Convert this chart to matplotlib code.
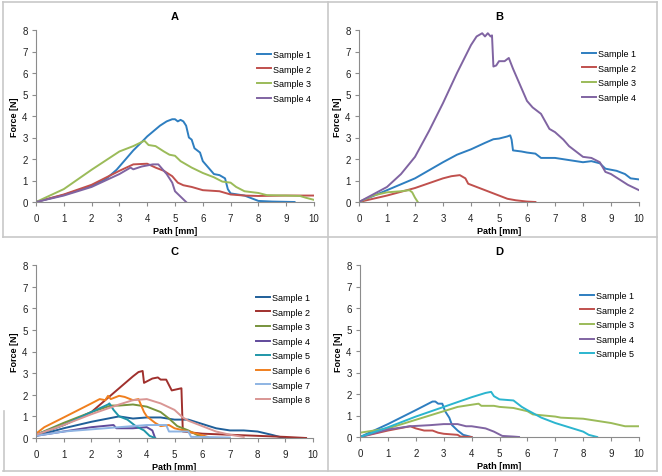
import matplotlib
matplotlib.use('Agg')
import matplotlib.pyplot as plt
from matplotlib.lines import Line2D

plt.rcParams['font.family'] = ['Liberation Sans', 'DejaVu Sans']

W, H = 662, 477

# ---- panel A ----
a1_x = [0, 1, 2, 2.5, 2.9, 3.2, 3.5, 3.85, 4.0, 4.46, 4.7, 4.9, 5.0, 5.1, 5.2, 5.3, 5.4, 5.5, 5.6, 5.7, 5.9, 6.0, 6.2, 6.4, 6.6, 6.8, 6.9, 7.0, 7.5, 8.0, 8.5, 9.3]
a1_y = [0, 0.33, 0.75, 1.05, 1.5, 1.95, 2.4, 2.85, 3.05, 3.55, 3.75, 3.85, 3.85, 3.75, 3.82, 3.75, 3.55, 3.0, 2.9, 2.5, 2.3, 1.9, 1.6, 1.3, 1.25, 1.1, 0.6, 0.4, 0.3, 0.05, 0.02, 0.0]
a2_x = [0, 1, 2, 3, 3.5, 4.0, 4.3, 4.6, 4.9, 5.1, 5.3, 5.6, 6.0, 6.6, 7.0, 7.5, 8.0, 9.0, 10]
a2_y = [0, 0.35, 0.8, 1.45, 1.75, 1.78, 1.6, 1.45, 1.2, 0.9, 0.78, 0.7, 0.55, 0.5, 0.35, 0.3, 0.28, 0.3, 0.3]
a3_x = [0, 1, 2, 3, 3.5, 3.9, 4.05, 4.3, 4.6, 4.8, 5.0, 5.2, 5.6, 6.0, 6.4, 6.7, 7.0, 7.2, 7.5, 8.0, 8.3, 9.0, 9.5, 9.7, 10]
a3_y = [0, 0.6, 1.5, 2.35, 2.6, 2.85, 2.65, 2.6, 2.35, 2.2, 2.15, 1.9, 1.6, 1.35, 1.15, 0.95, 0.9, 0.7, 0.5, 0.42, 0.32, 0.3, 0.28, 0.2, 0.1]
a4_x = [0, 1, 2, 3, 3.4, 3.5, 3.8, 4.0, 4.2, 4.4, 4.5, 4.7, 4.9, 5.0, 5.2, 5.4]
a4_y = [0, 0.3, 0.7, 1.3, 1.6, 1.52, 1.65, 1.7, 1.75, 1.75, 1.6, 1.3, 0.9, 0.5, 0.25, 0.0]

# ---- panel B ----
b1_x = [0, 1, 2, 3, 3.5, 4, 4.5, 4.8, 5.0, 5.3, 5.4, 5.45, 5.5, 5.8, 6.0, 6.3, 6.5, 7, 7.5, 8, 8.3, 8.6, 8.8, 9.2, 9.5, 9.7, 10]
b1_y = [0, 0.55, 1.1, 1.85, 2.2, 2.45, 2.75, 2.92, 2.95, 3.05, 3.1, 2.9, 2.4, 2.35, 2.3, 2.25, 2.05, 2.05, 1.95, 1.85, 1.9, 1.8, 1.55, 1.45, 1.3, 1.1, 1.05]
b2_x = [0, 1, 2, 3, 3.3, 3.6, 3.8, 3.9, 4.5, 5, 5.3, 5.6, 6, 6.3]
b2_y = [0, 0.3, 0.65, 1.1, 1.2, 1.25, 1.1, 0.85, 0.55, 0.3, 0.15, 0.08, 0.02, 0.0]
b3_x = [0, 0.5, 1, 1.5, 1.8, 1.9, 2.0, 2.1]
b3_y = [0, 0.3, 0.45, 0.5, 0.55, 0.45, 0.2, 0.0]
b4_x = [0, 0.5, 1, 1.5, 2, 2.5, 3, 3.5, 4, 4.2, 4.4, 4.5, 4.6, 4.7, 4.75, 4.8, 4.9, 5.0, 5.2, 5.35, 5.5, 5.8, 6.0, 6.2, 6.5, 6.8, 7.0, 7.3, 7.5, 7.8, 8.0, 8.3, 8.6, 8.8, 9.0, 9.3, 9.6, 10]
b4_y = [0, 0.35, 0.7, 1.3, 2.1, 3.3, 4.6, 6.0, 7.3, 7.7, 7.85, 7.7, 7.85, 7.7, 7.75, 6.3, 6.35, 6.55, 6.55, 6.7, 6.2, 5.3, 4.7, 4.4, 4.1, 3.4, 3.25, 2.9, 2.6, 2.3, 2.1, 2.05, 1.85, 1.4, 1.3, 1.05, 0.8, 0.55]

# ---- panel C ----
c1_x = [0, 1, 2, 3, 3.5, 4, 4.5, 5, 5.5, 6, 6.5, 7, 7.5, 8, 8.5, 8.8, 9]
c1_y = [0.1, 0.45, 0.75, 1.0, 0.9, 0.95, 0.95, 0.85, 0.85, 0.65, 0.45, 0.35, 0.35, 0.3, 0.15, 0.05, 0.0]
c2_x = [0, 1, 2, 3, 3.5, 3.7, 3.85, 3.9, 4.2, 4.4, 4.5, 4.7, 4.9, 5.25, 5.3, 6, 7, 8, 9, 9.75]
c2_y = [0.15, 0.6, 1.2, 2.3, 2.85, 3.05, 3.1, 2.55, 2.75, 2.8, 2.7, 2.7, 2.2, 2.3, 0.3, 0.2, 0.15, 0.1, 0.05, 0.0]
c3_x = [0, 1, 2, 2.7, 3.0, 3.5, 4, 4.5, 4.8, 5.1, 5.5, 5.8, 6.2]
c3_y = [0.15, 0.7, 1.2, 1.5, 1.5, 1.55, 1.45, 1.2, 0.9, 0.55, 0.35, 0.15, 0.0]
c4_x = [0, 1, 2, 2.8, 2.9, 3.5, 4.0, 4.2, 4.3]
c4_y = [0.1, 0.3, 0.5, 0.6, 0.45, 0.45, 0.5, 0.35, 0.0]
c5_x = [0, 1, 2, 2.6, 2.65, 2.8, 3.0, 3.3, 3.6, 3.9, 4.1, 4.3]
c5_y = [0.15, 0.6, 1.2, 1.55, 1.6, 1.3, 1.0, 0.85, 0.55, 0.35, 0.1, 0.0]
c6_x = [0, 0.3, 1, 2, 2.3, 2.5, 2.6, 2.7, 3.0, 3.2, 3.5, 3.7, 3.9, 4.0, 4.3, 4.5, 4.8, 5.0, 5.5, 5.8, 6.2]
c6_y = [0.2, 0.5, 0.95, 1.6, 1.8, 1.75, 1.95, 1.8, 1.95, 1.9, 1.75, 1.8, 1.2, 1.0, 0.7, 0.55, 0.6, 0.45, 0.3, 0.2, 0.05]
c7_x = [0, 1, 2, 3, 4, 4.7, 4.8, 5.5, 5.6, 6, 7]
c7_y = [0.1, 0.3, 0.4, 0.5, 0.6, 0.6, 0.3, 0.3, 0.05, 0.05, 0.02]
c8_x = [0, 1, 2, 3, 3.5, 4.0, 4.5, 5.0, 5.3, 5.5, 6, 6.5, 7, 7.5]
c8_y = [0.15, 0.6, 1.1, 1.55, 1.75, 1.8, 1.6, 1.3, 0.95, 0.8, 0.55, 0.3, 0.15, 0.05]

# ---- panel D ----
d1_x = [0, 1, 2, 2.6, 2.7, 2.8, 2.95, 3.05, 3.2, 3.3, 3.5, 3.7, 4.0]
d1_y = [0, 0.6, 1.25, 1.65, 1.65, 1.55, 1.55, 1.2, 0.9, 0.55, 0.3, 0.1, 0.0]
d2_x = [0, 1, 1.8, 2, 2.3, 2.6, 2.8, 3.0, 3.5, 3.6, 4.0]
d2_y = [0, 0.3, 0.5, 0.4, 0.3, 0.3, 0.2, 0.15, 0.1, 0.02, 0.0]
d3_x = [0, 1, 2, 3, 3.5, 4.0, 4.25, 4.35, 4.8, 5, 5.5, 6, 6.2, 7, 7.2, 8, 8.5, 9, 9.5, 10]
d3_y = [0.2, 0.4, 0.8, 1.2, 1.4, 1.5, 1.55, 1.45, 1.45, 1.4, 1.35, 1.2, 1.05, 0.95, 0.9, 0.85, 0.75, 0.65, 0.5, 0.5]
d4_x = [0, 1, 1.8, 2.5, 3, 3.5, 3.8, 4.0, 4.5, 4.8, 5.1, 5.5, 5.7]
d4_y = [0, 0.35, 0.5, 0.55, 0.6, 0.6, 0.5, 0.5, 0.4, 0.25, 0.05, 0.02, 0.0]
d5_x = [0, 1, 2, 3, 4, 4.5, 4.7, 4.8, 5, 5.5, 5.8, 6, 6.5, 7, 7.5, 8, 8.2, 8.5]
d5_y = [0, 0.45, 0.95, 1.4, 1.85, 2.05, 2.1, 1.9, 1.75, 1.7, 1.4, 1.25, 0.9, 0.65, 0.45, 0.25, 0.1, 0.0]

titles = ['A', 'B', 'C', 'D']
labels = ['Sample %d' % i for i in range(1, 9)]

col_std = ['#2E7EC0', '#C0504D', '#9BBB59', '#8064A2', '#2BB5CF']
col_c = ['#1F5F99', '#A0302D', '#77933C', '#604A9B', '#1F96A8', '#F07F1E', '#8EB4E3', '#D99694']

panels = [
    ([(a1_x, a1_y), (a2_x, a2_y), (a3_x, a3_y), (a4_x, a4_y)], col_std),
    ([(b1_x, b1_y), (b2_x, b2_y), (b3_x, b3_y), (b4_x, b4_y)], col_std),
    ([(c1_x, c1_y), (c2_x, c2_y), (c3_x, c3_y), (c4_x, c4_y),
      (c5_x, c5_y), (c6_x, c6_y), (c7_x, c7_y), (c8_x, c8_y)], col_c),
    ([(d1_x, d1_y), (d2_x, d2_y), (d3_x, d3_y), (d4_x, d4_y), (d5_x, d5_y)], col_std),
]

# axes boxes in pixels: left, right, top, bottom
boxes = [(36, 314, 31, 203), (359, 639, 31, 203), (36, 313, 266, 439), (360, 639, 266, 438)]
# legend anchor (handle x, first row top y) in pixels
leg_pos = [(257, 51), (582, 50), (256, 294), (580, 292)]

fig = plt.figure(figsize=(W / 100, H / 100), dpi=100)

# grey frames
fc = '#C8C8C8'
fig.add_artist(Line2D([3 / W, 657 / W], [1 - 3 / H, 1 - 3 / H], color=fc, lw=1.2))
fig.add_artist(Line2D([3 / W, 657 / W], [1 - 472 / H, 1 - 472 / H], color=fc, lw=1.2))
fig.add_artist(Line2D([3 / W, 3 / W], [1 - 3 / H, 1 - 238 / H], color=fc, lw=1.2))
fig.add_artist(Line2D([4 / W, 4 / W], [1 - 412 / H, 1 - 472 / H], color=fc, lw=1.2))
fig.add_artist(Line2D([657 / W, 657 / W], [1 - 3 / H, 1 - 472 / H], color=fc, lw=1.2))
fig.add_artist(Line2D([328 / W, 328 / W], [1 - 3 / H, 1 - 472 / H], color=fc, lw=1.2))
fig.add_artist(Line2D([3 / W, 657 / W], [1 - 238 / H, 1 - 238 / H], color=fc, lw=1.2))

for k, (series, cols) in enumerate(panels):
    l, r, t, b = boxes[k]
    ax = fig.add_axes([l / W, 1 - b / H, (r - l) / W, (b - t) / H])
    for i, (xs, ys) in enumerate(series):
        ax.plot(xs, ys, color=cols[i], lw=1.4, label=labels[i])
    ax.set_xlim(0, 10)
    ax.set_ylim(0, 8)
    ax.set_xticks(range(0, 11))
    ax.set_yticks(range(0, 9))
    for s in ['top', 'right']:
        ax.spines[s].set_visible(False)
    for s in ['left', 'bottom']:
        ax.spines[s].set_color('#8C8C8C')
        ax.spines[s].set_linewidth(0.8)
    ax.tick_params(direction='out', length=3, width=0.8, color='#8C8C8C',
                   labelsize=7, labelcolor='#222222', pad=3)
    ax.tick_params(axis='x', pad=5)
    ax.set_title(titles[k], fontsize=8, fontweight='bold', pad=8)
    ax.set_xlabel('Path [mm]', fontsize=6.5, fontweight='bold', labelpad=2)
    ax.set_ylabel('Force [N]', fontsize=6.5, fontweight='bold', labelpad=2)
    lx, ly = leg_pos[k]
    ax.legend(loc='upper left', bbox_to_anchor=(lx / W, 1 - ly / H),
              bbox_transform=fig.transFigure, frameon=False, fontsize=6.5,
              handlelength=1.6, handletextpad=0.15, labelspacing=0.62,
              borderpad=0, borderaxespad=0)

fig.savefig('out.png', dpi=100)
